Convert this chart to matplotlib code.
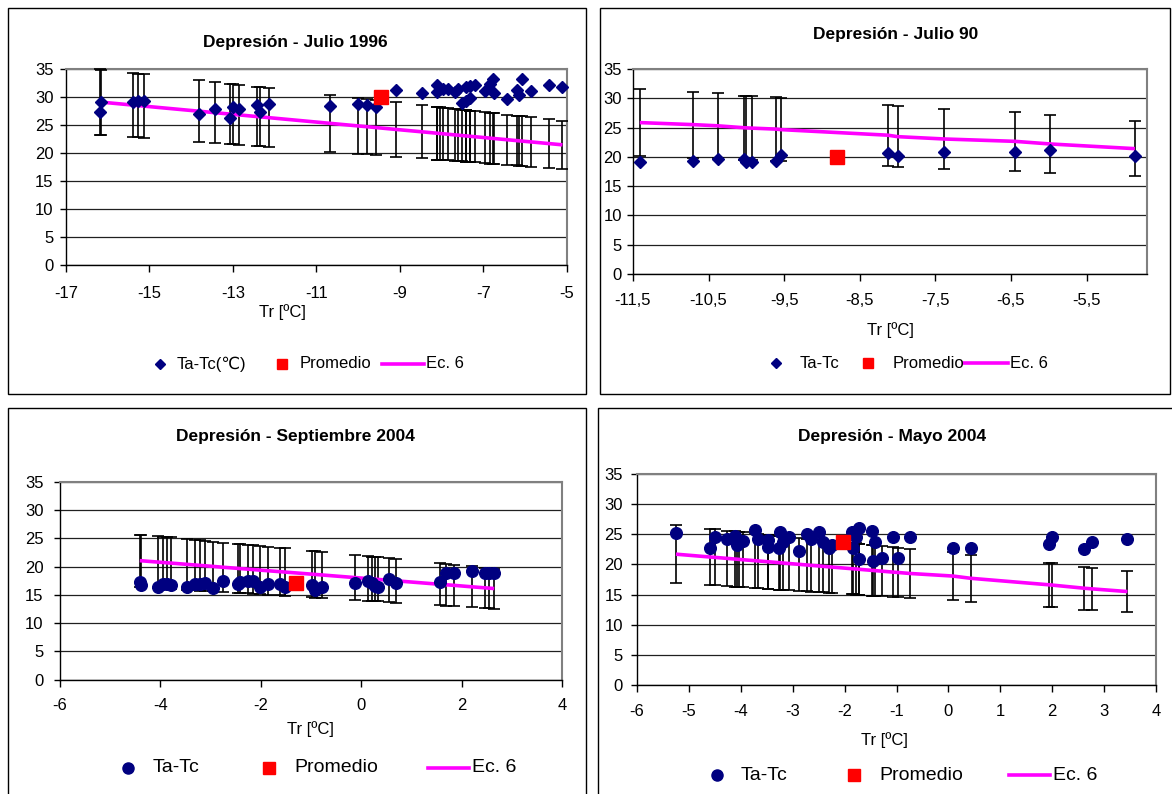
import matplotlib
matplotlib.use("Agg")
import matplotlib.pyplot as plt
from matplotlib.lines import Line2D
from matplotlib.patches import Rectangle

plt.rcParams['font.family'] = ['Liberation Sans', 'DejaVu Sans']

# ---------------- DATA ----------------
# Panel 1: Depresión - Julio 1996
tr1 = [-16.19, -16.15, -15.39, -15.28, -15.13, -13.81, -13.43, -13.07, -13.00, -12.85,
       -12.43, -12.35, -12.14, -10.68, -10.01, -9.80, -9.57, -9.10, -8.47, -8.11,
       -8.11, -8.04, -7.96, -7.84, -7.68, -7.60, -7.52, -7.42, -7.42, -7.32,
       -7.32, -7.20, -6.96, -6.84, -6.78, -6.74, -6.43, -6.20, -6.16, -6.07,
       -5.86, -5.43, -5.11]
tatc1 = [27.3, 29.05, 29.05, 29.3, 29.3, 26.96, 27.8, 26.3, 28.2, 27.9,
         28.5, 27.3, 28.75, 28.45, 28.75, 28.6, 28.3, 31.25, 30.7, 32.1,
         30.95, 31.4, 31.4, 31.4, 30.95, 31.5, 28.9, 31.8, 29.2, 29.8,
         31.9, 32.1, 31.1, 32.4, 33.3, 30.7, 29.6, 31.25, 30.35, 33.3,
         31.1, 32.1, 31.8]
ec6_1 = [29.11, 29.08, 28.55, 28.48, 28.37, 27.46, 27.20, 26.95, 26.90, 26.80,
         26.51, 26.46, 26.31, 25.30, 24.84, 24.70, 24.54, 24.21, 23.78, 23.53,
         23.53, 23.48, 23.43, 23.34, 23.23, 23.18, 23.12, 23.05, 23.05, 22.98,
         22.98, 22.90, 22.74, 22.65, 22.61, 22.58, 22.37, 22.21, 22.18, 22.12,
         21.98, 21.68, 21.46]
prom1 = (-9.46, 30.0)

# Panel 2: Depresión - Julio 90
tr2 = [-11.41, -10.70, -10.38, -10.03, -10.00, -9.92, -9.61, -9.54, -8.13, -8.00,
       -7.38, -6.45, -5.98, -4.86]
tatc2 = [19.06, 19.3, 19.7, 19.7, 19.2, 19.06, 19.3, 20.3, 20.6, 20.2,
         20.9, 20.9, 21.2, 20.2]
ec6_2 = [25.85, 25.5, 25.3, 24.97, 24.95, 24.9, 24.74, 24.65, 23.7, 23.45,
         23.05, 22.65, 22.2, 21.4]
prom2 = (-8.80, 20.0)

# Panel 3: Depresión - Septiembre 2004
tr3 = [-4.41, -4.38, -4.04, -3.94, -3.87, -3.79, -3.48, -3.31, -3.21, -3.11,
       -2.95, -2.76, -2.45, -2.41, -2.25, -2.15, -2.02, -1.85, -1.62, -1.52,
       -0.99, -0.92, -0.79, -0.12, 0.13, 0.21, 0.27, 0.34, 0.56, 0.69,
       1.57, 1.69, 1.84, 2.20, 2.47, 2.55, 2.65]
tatc3 = [17.2, 16.7, 16.45, 16.9, 17.0, 16.8, 16.45, 17.0, 17.0, 17.1,
         16.2, 17.5, 16.9, 17.35, 17.5, 17.5, 16.45, 17.0, 16.9, 16.45,
         16.75, 15.9, 16.35, 17.06, 17.46, 17.06, 16.6, 16.35, 17.75, 17.06,
         17.35, 18.95, 18.8, 19.2, 18.8, 18.8, 18.8]
ec6_3 = [21.06, 21.04, 20.8, 20.73, 20.68, 20.63, 20.41, 20.29, 20.22, 20.15,
         20.04, 19.9, 19.69, 19.66, 19.55, 19.48, 19.39, 19.27, 19.11, 19.04,
         18.67, 18.62, 18.53, 18.06, 17.88, 17.83, 17.78, 17.73, 17.58, 17.49,
         16.87, 16.79, 16.69, 16.43, 16.24, 16.19, 16.12]
prom3 = (-1.30, 17.06)

# Panel 4: Depresión - Mayo 2004
tr4 = [-5.25, -4.59, -4.50, -4.26, -4.11, -4.08, -4.03, -3.96, -3.73, -3.67,
       -3.47, -3.47, -3.26, -3.24, -3.18, -3.07, -2.87, -2.73, -2.65, -2.49,
       -2.41, -2.31, -2.24, -1.86, -1.83, -1.78, -1.72, -1.72, -1.48, -1.45,
       -1.41, -1.28, -1.06, -0.98, -0.74, 0.09, 0.43, 1.94, 1.99, 2.62,
       2.76, 3.45]
tatc4 = [25.16, 22.77, 24.6, 24.2, 24.76, 23.2, 23.66, 23.9, 25.7, 24.2,
         24.05, 22.9, 22.67, 25.3, 23.77, 24.6, 22.2, 25.0, 24.2, 25.4,
         23.77, 22.8, 23.2, 25.4, 22.8, 24.6, 26.0, 20.85, 25.6, 20.6,
         23.66, 21.1, 24.6, 21.1, 24.6, 22.77, 22.77, 23.4, 24.6, 22.5,
         23.66, 24.2]
ec6_4 = [21.7, 21.23, 21.17, 21.0, 20.89, 20.87, 20.83, 20.78, 20.62, 20.58,
         20.44, 20.44, 20.29, 20.27, 20.23, 20.15, 20.01, 19.91, 19.85, 19.74,
         19.68, 19.61, 19.56, 19.29, 19.27, 19.24, 19.19, 19.19, 19.02, 19.0,
         18.97, 18.88, 18.72, 18.67, 18.5, 18.07, 17.7, 16.62, 16.58, 16.05,
         15.95, 15.5]
prom4 = (-2.04, 23.66)

titles = ["Depresión - Julio 1996", "Depresión - Julio 90",
          "Depresión - Septiembre 2004", "Depresión - Mayo 2004"]
xlabel = "Tr [ºC]"
legend_labels = [["Ta-Tc(℃)", "Promedio", "Ec. 6"], ["Ta-Tc", "Promedio", "Ec. 6"],
                 ["Ta-Tc", "Promedio", "Ec. 6"], ["Ta-Tc", "Promedio", "Ec. 6"]]
xticks1 = [-17, -15, -13, -11, -9, -7, -5]
xticks2 = [-11.5, -10.5, -9.5, -8.5, -7.5, -6.5, -5.5]
xticklabels2 = ["-11,5", "-10,5", "-9,5", "-8,5", "-7,5", "-6,5", "-5,5"]
xticks3 = [-6, -4, -2, 0, 2, 4]
xticks4 = [-6, -5, -4, -3, -2, -1, 0, 1, 2, 3, 4]
yticks = [0, 5, 10, 15, 20, 25, 30, 35]
err_pct = [0.20, 0.22, 0.22, 0.22]   # percentage error bars on Ec. 6

# ---------------- LAYOUT ----------------
W, H = 1172, 794
fig = plt.figure(figsize=(W / 100, H / 100), dpi=100)
fig.patch.set_facecolor('white')


def fx(x):
    return x / W


def fy(y):
    return 1 - y / H


def add_box(l, t, r, b):
    fig.add_artist(Rectangle((fx(l), fy(b)), (r - l) / W, (b - t) / H, fill=False,
                             ec='black', lw=1.0, transform=fig.transFigure))


add_box(8, 8, 586, 394)
add_box(600, 8, 1170, 394)
add_box(8, 408, 586, 800)
add_box(598, 408, 1180, 800)

NAVY = '#000080'
RED = '#FF0000'
MAG = '#FF00FF'

panels = [
    dict(box=(66, 69, 567, 265), xlim=(-17, -5), xt=xticks1, xtl=[str(v) for v in xticks1],
         tr=tr1, y=tatc1, ec=ec6_1, prom=prom1, mk='D', ms=6.3, xpad=10, ypad=5,
         title=(295, 42), xl=(282, 312), leg_y=364, legfs=12, lms=(5.0, 7.0),
         leg=[(160, 177), (282, 300), (382, 424, 426)]),
    dict(box=(633, 69, 1147, 274), xlim=(-11.5, -4.7), xt=xticks2, xtl=xticklabels2,
         tr=tr2, y=tatc2, ec=ec6_2, prom=prom2, mk='D', ms=6.3, xpad=9, ypad=4,
         title=(896, 35), xl=(890, 330), leg_y=363, legfs=12, lms=(5.0, 7.0),
         leg=[(776, 800), (868, 893), (964, 1008, 1010)]),
    dict(box=(60, 482, 562, 679.5), xlim=(-6, 4), xt=xticks3, xtl=[str(v) for v in xticks3],
         tr=tr3, y=tatc3, ec=ec6_3, prom=prom3, mk='o', ms=8.4, xpad=8, ypad=8,
         title=(295, 437), xl=(310, 729), leg_y=768, legfs=14, lms=(8.0, 8.5),
         leg=[(128, 153), (269, 294), (428, 469, 472)]),
    dict(box=(637, 474, 1156, 685), xlim=(-6, 4), xt=xticks4, xtl=[str(v) for v in xticks4],
         tr=tr4, y=tatc4, ec=ec6_4, prom=prom4, mk='o', ms=8.4, xpad=9, ypad=6,
         title=(892, 437), xl=(884, 740), leg_y=775, legfs=14, lms=(8.0, 8.5),
         leg=[(717, 741), (854, 879), (1009, 1050, 1053)]),
]

for i, p in enumerate(panels):
    l, t, r, b = p['box']
    ax = fig.add_axes([fx(l), fy(b), (r - l) / W, (b - t) / H])
    ax.set_xlim(*p['xlim'])
    ax.set_ylim(0, 35)
    ax.set_yticks(yticks)
    ax.set_yticklabels([str(v) for v in yticks])
    ax.set_xticks(p['xt'])
    ax.set_xticklabels(p['xtl'])
    ax.yaxis.grid(True, color='#202020', lw=0.9)
    ax.set_axisbelow(True)
    for s in ['left', 'bottom']:
        ax.spines[s].set_color('black')
        ax.spines[s].set_linewidth(1.0)
    for s in ['top', 'right']:
        ax.spines[s].set_color('#808080')
        ax.spines[s].set_linewidth(1.5)
    ax.tick_params(axis='x', direction='out', length=5, width=1, labelsize=12, pad=p['xpad'])
    ax.tick_params(axis='y', direction='out', length=4, width=1, labelsize=12, pad=p['ypad'])

    yerr = [err_pct[i] * v for v in p['ec']]
    ax.errorbar(p['tr'], p['ec'], yerr=yerr, fmt='none', ecolor='black',
                elinewidth=1.2, capsize=4.5, capthick=1.2, zorder=3, clip_on=False)
    ax.plot(p['tr'], p['ec'], color=MAG, lw=2.6, zorder=4, solid_capstyle='butt')
    ax.plot(p['tr'], p['y'], linestyle='none', marker=p['mk'], ms=p['ms'],
            color=NAVY, mec=NAVY, zorder=5, clip_on=False)
    ax.plot([p['prom'][0]], [p['prom'][1]], linestyle='none', marker='s', ms=9.5,
            color=RED, mec=RED, zorder=6)

    # title & x label
    fig.text(fx(p['title'][0]), fy(p['title'][1]), titles[i], ha='center', va='center',
             fontsize=12.5, fontweight='bold')
    fig.text(fx(p['xl'][0]), fy(p['xl'][1]), xlabel, ha='center', va='center', fontsize=12)

    # legend (manual)
    ly = fy(p['leg_y'])
    (m1, t1), (m2, t2), (l1, l2, t3) = p['leg']
    fig.add_artist(Line2D([fx(m1)], [ly], marker=p['mk'], ms=p['lms'][0], color=NAVY,
                          linestyle='none', transform=fig.transFigure))
    fig.text(fx(t1), ly, legend_labels[i][0], ha='left', va='center', fontsize=p['legfs'])
    fig.add_artist(Line2D([fx(m2)], [ly], marker='s', ms=p['lms'][1], color=RED,
                          linestyle='none', transform=fig.transFigure))
    fig.text(fx(t2), ly, legend_labels[i][1], ha='left', va='center', fontsize=p['legfs'])
    fig.add_artist(Line2D([fx(l1), fx(l2)], [ly, ly], color=MAG, lw=2.6,
                          transform=fig.transFigure))
    fig.text(fx(t3), ly, legend_labels[i][2], ha='left', va='center', fontsize=p['legfs'])

fig.savefig('out.png', dpi=100, facecolor='white')
